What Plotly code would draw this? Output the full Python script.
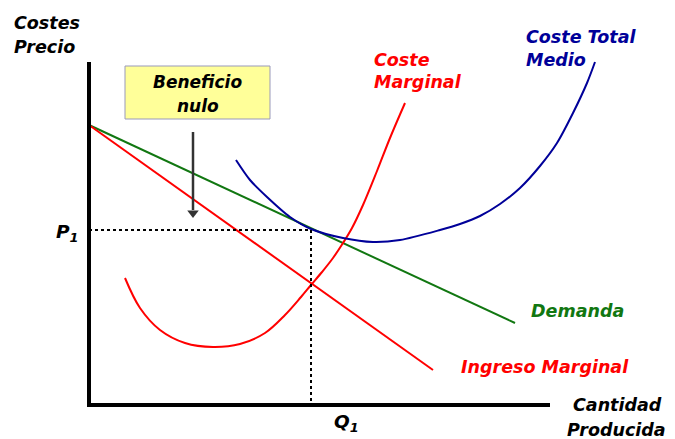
import plotly.graph_objects as go

# --- data (quantity, price units) ---
demand_q = [0.0, 42.6]
demand_p = [28.0, 8.2]
mr_q = [0.0, 34.4]
mr_p = [28.0, 3.5]
mc_q = [3.6, 5.1, 7.1, 9.6, 12.4, 15.1, 17.6, 19.6, 21.2, 22.2, 23.3, 24.4, 25.4,
        26.3, 27.4, 28.8, 30.1, 31.6]
mc_p = [12.7, 9.7, 7.5, 6.2, 5.8, 6.1, 7.2, 9.0, 10.8, 12.0, 13.3, 14.7, 16.2,
        17.7, 20.0, 23.4, 26.7, 30.2]
atc_q = [14.7, 16.1, 17.8, 20.1, 22.2, 25.4, 28.4, 31.1, 35.1, 37.1, 39.1,
         41.1, 43.1, 45.1, 46.8, 48.4, 49.8, 50.6]
atc_p = [24.5, 22.5, 20.8, 18.8, 17.6, 16.7, 16.3, 16.5, 17.5, 18.1, 18.9,
         20.1, 21.7, 23.9, 26.2, 29.2, 32.2, 34.3]
P1 = 17.5
Q1 = 22.2
x_axis_end = 46.1
y_axis_end = 34.3
arrow_q = 10.4
arrow_top = 27.3
arrow_tip = 18.7

RED = "#FF0000"
GREEN = "#117711"
BLUE = "#000099"
FONT = "DejaVu Sans"

fig = go.Figure()

fig.add_trace(go.Scatter(x=demand_q, y=demand_p, mode="lines",
                         line=dict(color=GREEN, width=2), hoverinfo="skip"))
fig.add_trace(go.Scatter(x=mr_q, y=mr_p, mode="lines",
                         line=dict(color=RED, width=2), hoverinfo="skip"))
fig.add_trace(go.Scatter(x=mc_q, y=mc_p, mode="lines",
                         line=dict(color=RED, width=2, shape="spline", smoothing=1.0),
                         hoverinfo="skip"))
fig.add_trace(go.Scatter(x=atc_q, y=atc_p, mode="lines",
                         line=dict(color=BLUE, width=2, shape="spline", smoothing=0.8),
                         hoverinfo="skip"))

# dotted guides
fig.add_trace(go.Scatter(x=[0, Q1], y=[P1, P1], mode="lines",
                         line=dict(color="black", width=2, dash="dot"), hoverinfo="skip"))
fig.add_trace(go.Scatter(x=[Q1, Q1], y=[P1, 0], mode="lines",
                         line=dict(color="black", width=2, dash="dot"), hoverinfo="skip"))

# axes
fig.add_trace(go.Scatter(x=[0, 0, x_axis_end], y=[y_axis_end, 0, 0], mode="lines",
                         line=dict(color="black", width=4), hoverinfo="skip"))

# arrow (shaft + head)
fig.add_trace(go.Scatter(x=[arrow_q, arrow_q], y=[arrow_top, arrow_tip + 0.8], mode="lines",
                         line=dict(color="#333333", width=2.5), hoverinfo="skip"))
fig.add_trace(go.Scatter(x=[arrow_q], y=[arrow_tip + 0.5], mode="markers",
                         marker=dict(symbol="triangle-down", size=10, color="#333333",
                                     line=dict(width=0)), hoverinfo="skip"))

# box
fig.add_shape(type="rect", x0=3.6, x1=18.1, y0=28.6, y1=33.9,
              fillcolor="#FFFF99", line=dict(color="#9999BB", width=1), layer="above")

def label(text, x, y, color="black", size=17.5, anchor="left"):
    fig.add_annotation(x=x, y=y, text=text, showarrow=False, xanchor=anchor,
                       yanchor="middle",
                       font=dict(family=FONT, size=size, color=color,
                                 weight="bold", style="italic"))

label("Costes", -7.7, 38.2)
label("Precio", -7.7, 35.8)
label("P<sub>1</sub>", -3.5, 17.2, size=18.5)
label("Q<sub>1</sub>", 24.3, -1.8, size=18.5)
label("Cantidad", 48.2, 0.0)
label("Producida", 47.6, -2.5)
label("Coste", 28.3, 34.5, RED)
label("Marginal", 28.3, 32.3, RED)
label("Coste Total", 43.5, 36.8, BLUE)
label("Medio", 43.5, 34.5, BLUE)
label("Demanda", 44.0, 9.4, GREEN)
label("Ingreso Marginal", 37.0, 3.8, RED)
label("Beneficio", 10.85, 32.3, size=17, anchor="center")
label("nulo", 10.85, 29.9, size=17, anchor="center")

# page body has an 8px margin: size and range the figure to compensate
fig.update_layout(
    width=667, height=431,
    margin=dict(l=0, r=0, t=0, b=0),
    paper_bgcolor="white", plot_bgcolor="white",
    showlegend=False,
    xaxis=dict(range=[-8.1, 58.6], visible=False, fixedrange=True),
    yaxis=dict(range=[-3.4, 39.7], visible=False, fixedrange=True),
)

fig.write_html("out.html")
